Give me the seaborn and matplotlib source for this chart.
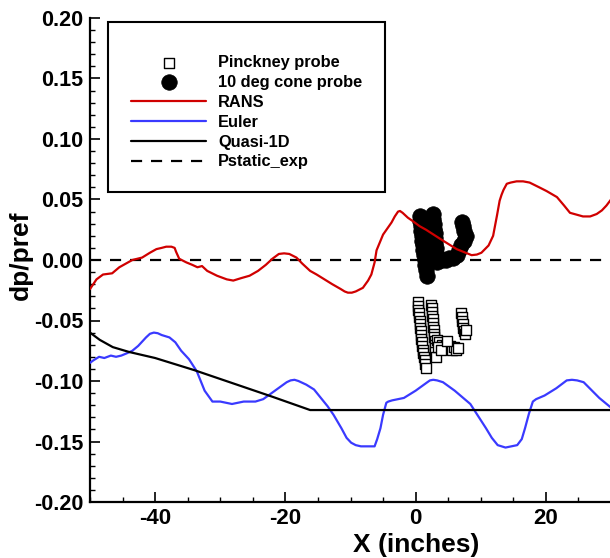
import numpy as np
import pandas as pd
import matplotlib
matplotlib.use("Agg")
import matplotlib.pyplot as plt
import seaborn as sns
from matplotlib.ticker import MultipleLocator, FormatStrFormatter

# ---------------- data ----------------
rans_x = [-50.0, -49.0, -48.0, -46.6, -45.5, -43.5, -42.0, -40.8, -39.8, -39.0, -38.3, -37.5,
          -37.0, -36.8, -36.3, -35.2, -34.3, -33.5, -32.8, -32.0, -30.5, -29.0, -28.0, -26.8,
          -25.5, -24.2, -23.0, -22.0, -21.0, -20.2, -19.4, -18.3, -17.4, -16.2, -15.2, -14.0,
          -12.8, -11.5, -10.9, -10.4, -9.8, -9.2, -8.1, -7.3, -6.8, -6.3, -6.0, -5.0, -3.7,
          -3.2, -2.7, -2.4, -2.0, -1.2, -0.4, 0.6, 1.6, 4.2, 6.3, 8.6, 9.4, 10.1, 11.2, 11.9,
          12.5, 12.9, 13.2, 13.5, 14.0, 14.6, 15.5, 16.5, 17.5, 19.0, 20.1, 21.7, 22.8, 23.7,
          25.7, 26.8, 27.8, 28.6, 29.3, 30.0]
rans_y = [-0.024, -0.016, -0.012, -0.011, -0.006, 0.000, 0.002, 0.006, 0.009, 0.010, 0.011, 0.011,
          0.010, 0.007, 0.001, -0.002, -0.004, -0.006, -0.005, -0.009, -0.013, -0.016, -0.017, -0.015,
          -0.013, -0.009, -0.004, 0.001, 0.005, 0.0055, 0.005, 0.002, -0.003, -0.009, -0.012, -0.016,
          -0.020, -0.024, -0.026, -0.027, -0.027, -0.026, -0.023, -0.017, -0.012, -0.002, 0.008, 0.021, 0.031,
          0.036, 0.040, 0.0405, 0.039, 0.035, 0.032, 0.028, 0.025, 0.016, 0.009, 0.004, 0.0045, 0.006, 0.012, 0.020,
          0.037, 0.049, 0.054, 0.058, 0.063, 0.064, 0.065, 0.065, 0.064, 0.060, 0.057, 0.052, 0.045, 0.039,
          0.036, 0.036, 0.038, 0.041, 0.045, 0.050]

euler_x = [-50.0, -49.5, -48.6, -47.8, -46.8, -46.0, -45.2, -44.3, -43.5, -42.6, -41.4, -40.8,
           -40.2, -39.6, -39.0, -37.8, -36.9, -36.0, -34.8, -33.6, -32.4, -31.2, -30.0, -28.2,
           -26.4, -24.6, -23.4, -21.6, -19.8, -19.2, -18.6, -18.0, -16.8, -15.6, -14.4, -13.5,
           -12.6, -11.4, -10.6, -9.9, -9.2, -8.4, -6.3, -5.9, -5.4, -5.0, -4.5, -4.2, -3.6,
           -1.8, 0.0, 1.8, 2.2, 2.7, 3.3, 4.2, 6.0, 8.4, 10.8, 11.7, 12.6, 13.2, 13.8, 15.6,
           16.3, 16.8, 17.4, 18.0, 18.5, 19.8, 21.6, 23.2, 24.0, 24.8, 25.8, 28.2, 30.0]
euler_y = [-0.085, -0.083, -0.080, -0.081, -0.079, -0.080, -0.079, -0.077, -0.075, -0.071, -0.064, -0.061,
           -0.060, -0.0605, -0.062, -0.064, -0.068, -0.075, -0.082, -0.092, -0.108, -0.117, -0.117, -0.119,
           -0.117, -0.117, -0.115, -0.108, -0.101, -0.0995, -0.099, -0.100, -0.103, -0.107, -0.115, -0.121,
           -0.128, -0.139, -0.147, -0.151, -0.153, -0.154, -0.154, -0.148, -0.139, -0.128, -0.118, -0.117, -0.116,
           -0.114, -0.108, -0.101, -0.0995, -0.099, -0.0995, -0.101, -0.108, -0.119, -0.139, -0.147, -0.153, -0.154, -0.155, -0.153,
           -0.148, -0.139, -0.127, -0.117, -0.115, -0.112, -0.106, -0.0995, -0.099, -0.0995, -0.101, -0.114, -0.122]

q1d_x = [-50.0, -48.5, -46.5, -44.0, -40.0, -34.0, -28.0, -22.0, -16.2, 30.0]
q1d_y = [-0.060, -0.066, -0.072, -0.076, -0.081, -0.091, -0.102, -0.113, -0.124, -0.124]

pstatic_x = [-50.0, 30.0]
pstatic_y = [0.0, 0.0]

pinck_x = [0.3, 0.35, 0.4, 0.45, 0.5, 0.6, 0.65, 0.7, 0.8, 0.85, 0.9, 1.0, 1.05, 1.1,
           1.2, 1.3, 1.4, 1.5, 1.6,
           2.4, 2.45, 2.5, 2.55, 2.6, 2.65, 2.7, 2.75, 2.8, 2.85, 2.9, 2.95, 3.0, 3.05, 3.1,
           3.3, 3.6, 4.0, 4.3, 4.6, 5.0, 5.3, 5.6, 5.9, 6.2, 6.5, 3.5, 3.9, 4.8,
           7.0, 7.05, 7.1, 7.2, 7.3, 7.4, 7.6, 7.7]
pinck_y = [-0.035, -0.038, -0.041, -0.044, -0.047, -0.050, -0.053, -0.056, -0.059, -0.062,
           -0.065, -0.068, -0.071, -0.074, -0.077, -0.080, -0.083, -0.086, -0.089,
           -0.037, -0.040, -0.043, -0.046, -0.049, -0.052, -0.055, -0.058, -0.061, -0.064,
           -0.067, -0.070, -0.073, -0.076, -0.080,
           -0.066, -0.068, -0.070, -0.072, -0.071, -0.073, -0.071, -0.074, -0.072, -0.074,
           -0.073, -0.072, -0.074, -0.067,
           -0.044, -0.047, -0.050, -0.053, -0.056, -0.059, -0.061, -0.058]

cone_x = [0.6, 0.7, 0.8, 0.9, 1.0, 1.05, 1.1, 1.2, 1.3, 1.4, 1.5, 1.6, 1.8,
          2.6, 2.7, 2.75, 2.8, 2.9, 2.95, 3.0, 3.1, 3.15, 3.2, 3.3,
          4.0, 4.6, 5.2, 5.8, 6.3,
          7.1, 7.3, 7.5, 7.8, 7.4, 6.9, 6.7]
cone_y = [0.036, 0.032, 0.028, 0.024, 0.020, 0.016, 0.012, 0.008, 0.004, 0.000, -0.004, -0.008, -0.013,
          0.038, 0.034, 0.030, 0.026, 0.022, 0.018, 0.014, 0.010, 0.006, 0.002, -0.002,
          0.000, 0.000, 0.002, 0.002, 0.004,
          0.031, 0.028, 0.024, 0.020, 0.016, 0.012, 0.008]

# ---------------- style ----------------
sns.set_theme(style="white")
plt.rcParams["font.family"] = ["Liberation Sans", "DejaVu Sans"]
plt.rcParams["font.weight"] = "bold"
plt.rcParams["axes.unicode_minus"] = False
plt.rcParams["lines.solid_joinstyle"] = "round"
plt.rcParams["lines.solid_capstyle"] = "round"
plt.rcParams["text.color"] = "black"
plt.rcParams["axes.labelcolor"] = "black"
plt.rcParams["xtick.color"] = "black"
plt.rcParams["ytick.color"] = "black"

fig = plt.figure(figsize=(6.10, 5.58), dpi=100)
ax = fig.add_axes([90 / 610, 56 / 558, 521 / 610, 484 / 558])

df_pinck = pd.DataFrame({"x": pinck_x, "y": pinck_y})
df_cone = pd.DataFrame({"x": cone_x, "y": cone_y})

sns.scatterplot(data=df_pinck, x="x", y="y", ax=ax, marker="s", s=62,
                facecolor="white", edgecolor="black", linewidth=1.0,
                zorder=3, label="Pinckney probe")
sns.scatterplot(data=df_cone, x="x", y="y", ax=ax, marker="o", s=125,
                color="black", edgecolor="black", linewidth=0.5,
                zorder=4, label="10 deg cone probe")
sns.lineplot(x=rans_x, y=rans_y, ax=ax, color="#d00000", linewidth=1.6,
             zorder=5, label="RANS", sort=False, estimator=None)
sns.lineplot(x=euler_x, y=euler_y, ax=ax, color="#3a3aff", linewidth=1.6,
             zorder=5, label="Euler", sort=False, estimator=None)
sns.lineplot(x=q1d_x, y=q1d_y, ax=ax, color="black", linewidth=1.6,
             zorder=5, label="Quasi-1D", sort=False, estimator=None)
sns.lineplot(x=pstatic_x, y=pstatic_y, ax=ax, color="black", linewidth=1.6,
             dashes=(5, 4), zorder=2, label="Pstatic_exp", sort=False, estimator=None)

ax.set_xlim(-50, 30)
ax.set_ylim(-0.20, 0.20)
ax.set_xticks([-40, -20, 0, 20])
ax.xaxis.set_minor_locator(MultipleLocator(5))
ax.yaxis.set_major_locator(MultipleLocator(0.05))
ax.yaxis.set_minor_locator(MultipleLocator(0.01))
ax.yaxis.set_major_formatter(FormatStrFormatter("%.2f"))

for s in ["top", "right"]:
    ax.spines[s].set_visible(False)
for s in ["left", "bottom"]:
    ax.spines[s].set_linewidth(1.6)
    ax.spines[s].set_color("black")

ax.tick_params(which="major", direction="in", length=7, width=1.2, colors="black",
               left=True, bottom=True)
ax.tick_params(which="minor", direction="in", length=3.5, width=1.0, colors="black",
               left=True, bottom=True)
ax.tick_params(axis="y", which="major", pad=5, labelsize=15.5)
ax.tick_params(axis="x", which="major", pad=4.5, labelsize=16)
for lab in ax.get_xticklabels() + ax.get_yticklabels():
    lab.set_fontweight("bold")

ax.set_xlabel("X (inches)", fontsize=19, fontweight="bold", color="black")
ax.set_ylabel("dp/pref", fontsize=19, fontweight="bold", color="black")
ax.xaxis.set_label_coords((416 - 90) / 521, (502 - 533) / 484)
ax.yaxis.set_label_coords((33 - 90) / 521, 0.5 + 5 / 484)

handles, labels = ax.get_legend_handles_labels()
leg = ax.legend(handles, labels, loc="upper left",
                bbox_to_anchor=((108 - 90) / 521, (502 - 22) / 484),
                borderaxespad=0, fancybox=False, framealpha=1,
                edgecolor="black", prop={"weight": "bold", "size": 11.8},
                handlelength=4.6, handletextpad=0.73, borderpad=1.4,
                labelspacing=0.3, title=" ", title_fontsize=4,
                labelcolor="black")
leg.get_frame().set_linewidth(1.5)

fig.savefig("out.png", dpi=100)
